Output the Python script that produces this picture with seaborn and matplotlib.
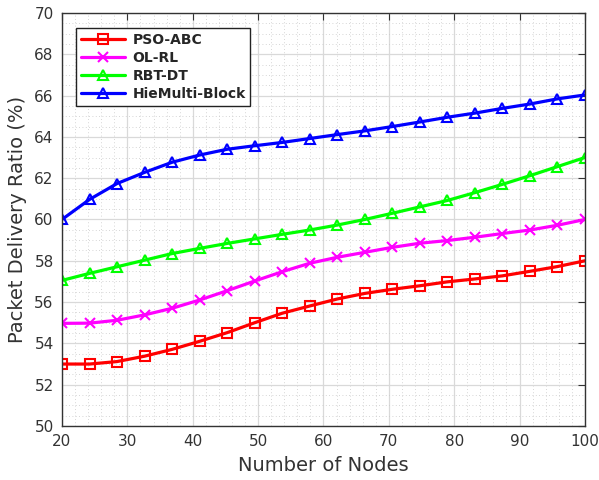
import numpy as np
import pandas as pd
import matplotlib
matplotlib.use("Agg")
import matplotlib.pyplot as plt
from matplotlib.ticker import MultipleLocator
import seaborn as sns

# Number of nodes (20 evenly spaced samples between 20 and 100)
nodes = [20.0, 24.21, 28.42, 32.63, 36.84, 41.05, 45.26, 49.47, 53.68, 57.89,
         62.11, 66.32, 70.53, 74.74, 78.95, 83.16, 87.37, 91.58, 95.79, 100.0]

pso_abc = [53.0, 53.0, 53.12, 53.38, 53.71, 54.1, 54.52, 55.0, 55.46, 55.81,
           56.15, 56.42, 56.62, 56.79, 56.98, 57.12, 57.27, 57.49, 57.72, 58.0]
ol_rl = [54.97, 54.98, 55.12, 55.38, 55.7, 56.1, 56.55, 57.02, 57.47, 57.88,
         58.17, 58.41, 58.65, 58.85, 58.98, 59.14, 59.32, 59.49, 59.72, 60.0]
rbt_dt = [57.05, 57.39, 57.71, 58.03, 58.35, 58.6, 58.84, 59.06, 59.28, 59.49,
          59.73, 60.0, 60.3, 60.61, 60.92, 61.3, 61.7, 62.12, 62.56, 63.0]
hiemulti = [60.0, 60.97, 61.74, 62.28, 62.77, 63.12, 63.4, 63.57, 63.73, 63.92,
            64.11, 64.29, 64.5, 64.72, 64.95, 65.15, 65.38, 65.59, 65.84, 66.03]

methods = ["PSO-ABC", "OL-RL", "RBT-DT", "HieMulti-Block"]
colors = ["#ff0000", "#ff00ff", "#00ff00", "#0000ff"]
markers = ["s", "x", "^", "^"]

df = pd.DataFrame({
    "nodes": nodes * 4,
    "pdr": pso_abc + ol_rl + rbt_dt + hiemulti,
    "method": sum([[m] * len(nodes) for m in methods], []),
})

sns.set_style("white")
plt.rcParams["font.family"] = ["DejaVu Sans"]

fig = plt.figure(figsize=(5.99, 4.8), dpi=100)
ax = fig.add_axes([0.1035, 0.1125, 0.873, 0.8605])

for m, c, mk in zip(methods, colors, markers):
    sub = df[df["method"] == m]
    sns.lineplot(data=sub, x="nodes", y="pdr", ax=ax, color=c, linewidth=2.3,
                 marker=mk, markersize=7, markerfacecolor="none",
                 markeredgecolor=c, markeredgewidth=1.5, label=m)

ax.set_xlim(20, 100)
ax.set_ylim(50, 70)
ax.xaxis.set_major_locator(MultipleLocator(10))
ax.xaxis.set_minor_locator(MultipleLocator(2))
ax.yaxis.set_major_locator(MultipleLocator(2))
ax.yaxis.set_minor_locator(MultipleLocator(0.5))

ax.grid(which="major", color="#d9d9d9", linewidth=0.9, linestyle="-")
ax.grid(which="minor", color="#c8c8c8", linewidth=0.6, linestyle=(0, (1, 3)))
ax.set_axisbelow(True)

ax.tick_params(which="major", direction="in", length=5, width=0.8,
               top=True, right=True, labelsize=11, labelcolor="#333333",
               color="#333333", pad=6)
ax.tick_params(which="minor", length=0)
for s in ax.spines.values():
    s.set_color("#333333")
    s.set_linewidth(1.0)

ax.set_xlabel("Number of Nodes", fontsize=14, color="#333333", labelpad=5)
ax.set_ylabel("Packet Delivery Ratio (%)", fontsize=14, color="#333333", labelpad=5)

leg = ax.legend(loc="upper left", bbox_to_anchor=(0.027, 0.964), borderaxespad=0,
                frameon=True, fancybox=False, edgecolor="#222222", framealpha=1,
                prop={"weight": "bold", "size": 10}, handlelength=3.2,
                borderpad=0.35, labelspacing=0.3, handletextpad=0.5)
leg.get_frame().set_linewidth(1.0)

fig.savefig("out.png", dpi=100)
